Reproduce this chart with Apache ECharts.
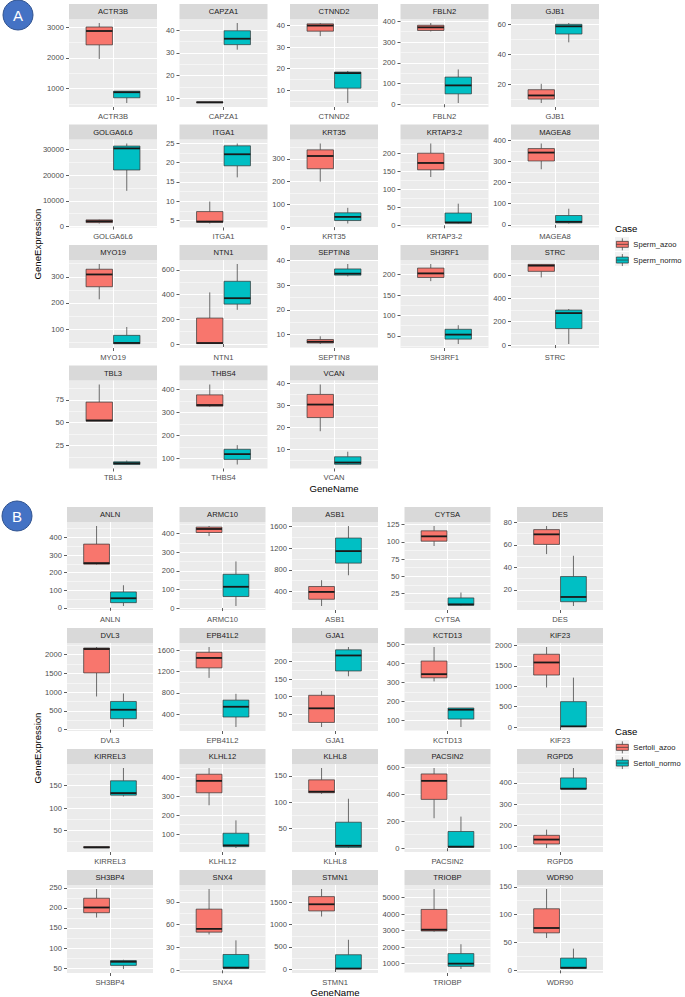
<!DOCTYPE html>
<html><head><meta charset="utf-8">
<script src="https://cdn.jsdelivr.net/npm/echarts@6/dist/echarts.min.js"></script>
<style>html,body{margin:0;padding:0;background:#fff}#chart{width:685px;height:997px}</style>
</head><body><div id="chart"></div>
<script>
// ---------- DATA (box stats: [min, q1, median, q3, max]) ----------
const genesA = ['ACTR3B','CAPZA1','CTNND2','FBLN2','GJB1','GOLGA6L6','ITGA1','KRT35','KRTAP3-2','MAGEA8','MYO19','NTN1','SEPTIN8','SH3RF1','STRC','TBL3','THBS4','VCAN'];
const spermAzoo = [
  [1960,2420,2870,3000,3130],[8.0,8.1,8.3,8.5,8.6],[35.1,37.4,40.0,40.8,41.2],[351,356,371,381,392],[7.7,10.3,12.7,16.5,20.4],
  [1200,1560,2080,2600,2700],[4.2,4.5,4.7,7.3,9.9],[200,257,313,340,368],[134,154,173,200,227],[263,302,342,361,385],
  [214,262,309,329,349],[0,3,8,210,418],[6.2,6.6,7.1,8.0,9.3],[184,193,203,216,226],[580,632,681,692,695],
  [51.7,51.7,52.5,72.5,91.7],[325,328,333,377,422],[18.3,24.5,30.4,35.0,39.5]
];
const spermNormo = [
  [530,700,880,914,914],[31.4,33.6,36.2,39.7,43.1],[4.0,10.9,17.9,18.4,18.9],[6,50,91,131,168],[47.9,53.4,58.5,59.8,60.7],
  [13900,22000,30400,31300,32300],[16.2,19.2,22.2,24.4,25.0],[16,29,45,63,85],[5,6,8,34,60],[6,9,14,44,76],
  [43,44,47,76,108],[277,323,371,508,648],[33.5,34.0,34.6,36.5,38.5],[30,42,53,66,76],[9,141,274,300,309],
  [4.4,4.4,5.8,7.3,8.7],[75,97,120,141,159],[3.2,3.3,4.1,6.7,9.0]
];
const ticksA = [
  [1000,2000,3000],[10,20,30,40],[10,20,30,40],[0,100,200,300,400],[20,40,60],
  [0,10000,20000,30000],[5,10,15,20,25],[0,100,200,300],[0,50,100,150,200],[0,100,200,300,400],
  [100,200,300],[0,200,400,600],[10,20,30,40],[50,100,150,200],[0,200,400,600],
  [0,25,50,75],[100,200,300,400],[10,20,30,40]
];
const groupNamesA = ['Sperm_azoo','Sperm_normo'];

const genesB = ['ANLN','ARMC10','ASB1','CYTSA','DES','DVL3','EPB41L2','GJA1','KCTD13','KIF23','KIRREL3','KLHL12','KLHL8','PACSIN2','RGPD5','SH3BP4','SNX4','STMN1','TRIOBP','WDR90'];
const sertoliAzoo = [
  [245,248,254,362,465],[386,405,424,434,440],[130,255,391,491,608],[94,101,108,116,123],[51.8,60.4,69.3,73.5,76.7],
  [885,1513,2150,2177,2204],[1081,1269,1456,1562,1662],[14,27,67,104,116],[307,326,345,414,488],[968,1274,1581,1782,1960],
  [11,11.5,12.5,14,14.5],[252,318,381,416,449],[116,118,120,142.5,165],[222,361,498,549,593],[92,111,132,152,179],
  [176,188,201,224,247],[47.2,50.2,54.5,80.5,107],[1185,1312,1462,1635,1807],[2940,2980,3060,4289,5528],[58,67.3,76,110.5,146]
];
const sertoliNormo = [
  [10,29,54,90,128],[11,62,114,181,250],[700,925,1148,1390,1613],[7,8,9.4,18.7,26.5],[5.8,9.6,13.8,31.9,50.3],
  [71,292,531,752,965],[156,344,537,662,781],[158,173,217,233,241],[67,109,158,167,167],[0,8,16,621,1210],
  [126,129,133.6,161,189.6],[26,33,40,104,172],[13,14.2,17.3,62,106.6],[2,7,12,124,234],[370,371,373,424,471],
  [48,57,66,69,71],[1.7,2.6,3.5,20.8,39.4],[0,5,10,322,660],[675,838,1000,1609,2178],[2.4,3.5,4.7,21.9,39]
];
const ticksB = [
  [0,100,200,300,400],[0,100,200,300,400],[400,800,1200,1600],[25,50,75,100,125],[20,40,60,80],
  [0,500,1000,1500,2000],[400,800,1200,1600],[50,100,150,200],[100,200,300,400,500],[0,500,1000,1500,2000],
  [50,100,150],[100,200,300,400],[50,100,150],[0,200,400,600],[100,200,300,400],
  [50,100,150,200,250],[0,30,60,90],[0,500,1000,1500],[1000,2000,3000,4000,5000],[0,50,100,150]
];
const groupNamesB = ['Sertoli_azoo','Sertoli_normo'];

// ---------- STYLE ----------
const COLORS = ['#F8766D', '#00BFC4'];
const FONT = '"Liberation Sans", Arial, sans-serif';
const SMALL = 7.6, BIG = 9.6;
const DODGE = 0.1875, HALF = 0.18;

const panels = [
  {genes: genesA, groups: [spermAzoo, spermNormo], ticks: ticksA, names: groupNamesA,
   left0: 69, dx: 110.5, w: 88, top0: 19, dy: 120.5, h: 88, label: 'A', cx: 18, cy: 15,
   caseY: 228, legendTop: 238, yTitleY: 244, xTitleY: 488},
  {genes: genesB, groups: [sertoliAzoo, sertoliNormo], ticks: ticksB, names: groupNamesB,
   left0: 67, dx: 112.5, w: 86, top0: 522, dy: 121, h: 88, label: 'B', cx: 17, cy: 516,
   caseY: 731, legendTop: 741, yTitleY: 748, xTitleY: 992}
];

function renderBox(params, api) {
  const x = api.value(0);
  const v = [1, 2, 3, 4, 5].map(d => api.value(d));
  const cx = api.coord([x, v[2]])[0];
  const yy = v.map(val => api.coord([x, val])[1]);
  const xl = api.coord([x - HALF, v[1]])[0];
  const xr = api.coord([x + HALF, v[1]])[0];
  const color = api.visual('color');
  const ws = {stroke: '#333333', lineWidth: 0.7};
  return {type: 'group', children: [
    {type: 'line', shape: {x1: cx, y1: yy[4], x2: cx, y2: yy[3]}, style: ws},
    {type: 'line', shape: {x1: cx, y1: yy[1], x2: cx, y2: yy[0]}, style: ws},
    {type: 'rect', shape: {x: xl, y: yy[3], width: xr - xl, height: Math.max(yy[1] - yy[3], 0.5)},
     style: {fill: color, stroke: '#333333', lineWidth: 0.7}},
    {type: 'line', shape: {x1: xl, y1: yy[2], x2: xr, y2: yy[2]}, style: {stroke: '#1A1A1A', lineWidth: 1.8}}
  ]};
}

const grid = [], xAxis = [], yAxis = [], series = [], graphic = [], legend = [];
let gi = 0;
const txt = (text, x, y, size, fill, extra) => Object.assign({
  type: 'text', x, y, silent: true,
  style: {text, fill, font: size + 'px ' + FONT, textAlign: 'center', align: 'center',
          textVerticalAlign: 'middle', verticalAlign: 'middle'}
}, extra || {});

panels.forEach(p => {
  p.genes.forEach((gene, i) => {
    const r = Math.floor(i / 5), c = i % 5;
    const left = p.left0 + p.dx * c, top = p.top0 + p.dy * r;
    grid.push({left, top, width: p.w, height: p.h, show: true, backgroundColor: '#EBEBEB', borderWidth: 0});
    const all = p.groups[0][i].concat(p.groups[1][i]);
    const lo = Math.min(...all), hi = Math.max(...all), pad = (hi - lo) * 0.05;
    const ymin = lo - pad, ymax = hi + pad;
    const majors = p.ticks[i];
    const step = majors[1] - majors[0];
    const minors = [];
    for (let v = majors[0] - step / 2; v <= ymax; v += step) if (v >= ymin) minors.push(v);

    xAxis.push({gridIndex: gi, type: 'value', min: 0.4, max: 1.6,
      axisLine: {show: false},
      axisTick: {show: true, length: 3, lineStyle: {color: '#333333', width: 0.8}, customValues: [1]},
      axisLabel: {customValues: [1], formatter: () => gene, color: '#4D4D4D', fontSize: SMALL, fontFamily: FONT, margin: 5},
      splitLine: {show: true, lineStyle: {color: '#FFFFFF', width: 1.1}}});
    yAxis.push({gridIndex: gi, type: 'value', min: ymin, max: ymax,
      axisLine: {show: false},
      axisTick: {show: true, length: 3, lineStyle: {color: '#333333', width: 0.8}, customValues: majors},
      axisLabel: {customValues: majors, formatter: v => String(v), color: '#4D4D4D', fontSize: SMALL, fontFamily: FONT, margin: 5},
      splitLine: {show: true, lineStyle: {color: '#FFFFFF', width: 1.1}}});
    yAxis.push({gridIndex: gi, type: 'value', min: ymin, max: ymax, position: 'left',
      axisLine: {show: false},
      axisTick: {show: false, customValues: minors},
      axisLabel: {show: false},
      splitLine: {show: true, lineStyle: {color: '#FFFFFF', width: 0.5}}});

    p.groups.forEach((g, k) => {
      series.push({type: 'custom', name: p.names[k], xAxisIndex: gi, yAxisIndex: 2 * gi,
        itemStyle: {color: COLORS[k]}, z: 3, silent: true,
        data: [[1 + (k === 0 ? -DODGE : DODGE)].concat(g[i])],
        encode: {x: 0, y: [1, 2, 3, 4, 5]},
        renderItem: renderBox});
    });

    graphic.push({type: 'rect', silent: true, shape: {x: left, y: top - 15, width: p.w, height: 15}, style: {fill: '#D9D9D9'}});
    graphic.push(txt(gene, left + p.w / 2, top - 7.5, SMALL, '#1A1A1A'));
    gi++;
  });

  const plotsLeft = p.left0, plotsRight = p.left0 + p.dx * 4 + p.w;
  graphic.push(txt('GeneName', (plotsLeft + plotsRight) / 2, p.xTitleY, BIG, '#000000'));
  graphic.push(txt('GeneExpression', 37, p.yTitleY, BIG, '#000000', {rotation: Math.PI / 2}));
  graphic.push({type: 'text', x: 615, y: p.caseY, silent: true,
    style: {text: 'Case', fill: '#000000', font: BIG + 'px ' + FONT, textAlign: 'left', align: 'left',
            textVerticalAlign: 'middle', verticalAlign: 'middle'}});
  [0, 1].forEach(k => {
    graphic.push({type: 'rect', silent: true, z: -1,
      shape: {x: 615, y: p.legendTop + 15 * k - 1, width: 14, height: 14}, style: {fill: '#F2F2F2'}});
  });
  graphic.push({type: 'circle', silent: true, shape: {cx: p.cx, cy: p.cy, r: 15},
    style: {fill: '#4472C4', stroke: '#2F528F', lineWidth: 1}});
  graphic.push(txt(p.label, p.cx, p.cy + 0.5, 15, '#FFFFFF'));

  legend.push({data: p.names, orient: 'vertical', left: 616, top: p.legendTop, padding: 0,
    itemWidth: 12, itemHeight: 12, itemGap: 3, selectedMode: false,
    icon: 'path://M0,3H12V9H0Z M6,0V3 M6,9V12 M0,6H12',
    itemStyle: {borderColor: '#333333', borderWidth: 0.7},
    textStyle: {fontSize: SMALL, color: '#1A1A1A', fontFamily: FONT}});
});

const chart = echarts.init(document.getElementById('chart'), null, {renderer: 'svg'});
chart.setOption({
  animation: false,
  backgroundColor: '#FFFFFF',
  textStyle: {fontFamily: FONT},
  grid, xAxis, yAxis, series, legend, graphic
});
</script></body></html>
